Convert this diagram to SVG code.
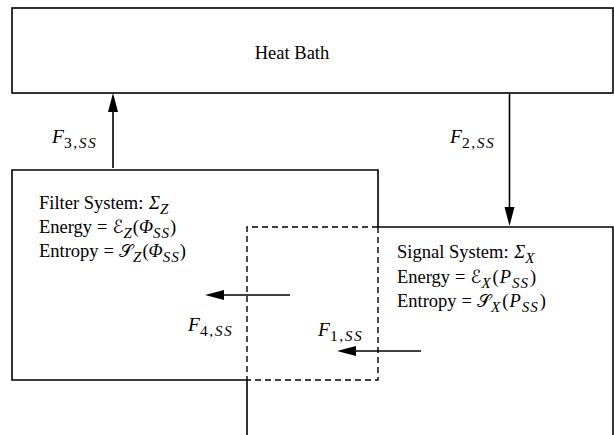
<svg xmlns="http://www.w3.org/2000/svg" width="614" height="435" viewBox="0 0 614 435">
<style>
.box{fill:none;stroke:#000;stroke-width:1.6}
.dash{fill:none;stroke:#000;stroke-width:1.4;stroke-dasharray:6 4}
.wire{fill:none;stroke:#000;stroke-width:1.6}
text{font-family:"Liberation Serif","DejaVu Serif",serif;font-size:18.5px;fill:#000}
.it{font-style:italic}
.up{font-style:normal}
.sub{font-style:italic;font-size:15px;letter-spacing:1px}
.fl{font-size:19.5px}
.fl .sub{font-size:15.5px;letter-spacing:1.6px}
.cal{font-family:"DejaVu Serif","DejaVu Sans","Noto Sans",serif;font-style:normal;font-size:18px}
</style>
<defs>
<marker id="ah" markerUnits="userSpaceOnUse" markerWidth="20" markerHeight="11" refX="0" refY="5" orient="auto">
<path d="M0,0 L19,5 L0,10 Z" fill="#000"/>
</marker>
</defs>
<rect width="614" height="435" fill="#fff"/>
<g id="heat-bath">
<rect class="box" x="12" y="8" width="601" height="85"/>
<text x="292" y="59" text-anchor="middle">Heat Bath</text>
</g>
<g id="filter-system">
<path class="box" d="M247,380 H12 V170 H378 V227"/>
<path class="dash" d="M378,227 V380 H247"/>
<text x="39" y="209">Filter System: <tspan class="it" dx="1">Σ</tspan><tspan class="sub" dy="5">Z</tspan></text>
<text x="39" y="233">Energy<tspan dx="5">=</tspan><tspan class="cal" dx="5">ℰ</tspan><tspan class="sub" dy="5">Z</tspan><tspan dy="-5">(</tspan><tspan class="it">Φ</tspan><tspan class="sub" dy="5">SS</tspan><tspan dy="-5">)</tspan></text>
<text x="39" y="257">Entropy<tspan dx="5">=</tspan><tspan class="cal" dx="5">𝒮</tspan><tspan class="sub" dy="5">Z</tspan><tspan dy="-5">(</tspan><tspan class="it">Φ</tspan><tspan class="sub" dy="5">SS</tspan><tspan dy="-5">)</tspan></text>
</g>
<g id="signal-system">
<path class="box" d="M378,227 H613 V435 M247,380 V435"/>
<path class="dash" d="M378,227 H247 V380"/>
<text x="397" y="258">Signal System: <tspan class="it" dx="1">Σ</tspan><tspan class="sub" dy="5">X</tspan></text>
<text x="397" y="283">Energy<tspan dx="5">=</tspan><tspan class="cal" dx="5">ℰ</tspan><tspan class="sub" dy="5">X</tspan><tspan dy="-5" dx="1">(</tspan><tspan class="it" dx="1">P</tspan><tspan class="sub" dy="5" dx="1">SS</tspan><tspan dy="-5" dx="1">)</tspan></text>
<text x="397" y="307">Entropy<tspan dx="5">=</tspan><tspan class="cal" dx="5">𝒮</tspan><tspan class="sub" dy="5">X</tspan><tspan dy="-5" dx="1">(</tspan><tspan class="it" dx="1">P</tspan><tspan class="sub" dy="5" dx="1">SS</tspan><tspan dy="-5" dx="1">)</tspan></text>
</g>
<g id="connectors">
<path class="wire" d="M113,168 V112" marker-end="url(#ah)"/>
<path class="wire" d="M509.5,93 V207" marker-end="url(#ah)"/>
<path class="wire" d="M290,295 H224" marker-end="url(#ah)"/>
<path class="wire" d="M421,351 H356" marker-end="url(#ah)"/>
<text class="fl" x="52" y="143"><tspan class="it">F</tspan><tspan class="sub" dy="5"><tspan class="up">3,</tspan>SS</tspan></text>
<text class="fl" x="450" y="143"><tspan class="it">F</tspan><tspan class="sub" dy="5"><tspan class="up">2,</tspan>SS</tspan></text>
<text class="fl" x="188" y="331"><tspan class="it">F</tspan><tspan class="sub" dy="5"><tspan class="up">4,</tspan>SS</tspan></text>
<text class="fl" x="318" y="336"><tspan class="it">F</tspan><tspan class="sub" dy="5"><tspan class="up">1,</tspan>SS</tspan></text>
</g>
</svg>
